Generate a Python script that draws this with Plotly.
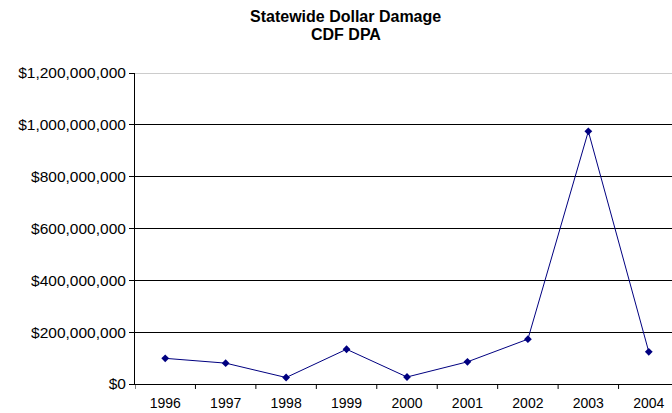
import plotly.graph_objects as go

years = ["1996", "1997", "1998", "1999", "2000", "2001", "2002", "2003", "2004"]
damage = [99_000_000, 80_500_000, 25_000_000, 134_000_000, 27_000_000,
          85_500_000, 173_000_000, 975_000_000, 124_000_000]
y_ticks = [0, 200_000_000, 400_000_000, 600_000_000, 800_000_000,
           1_000_000_000, 1_200_000_000]
y_tick_text = [f"${v:,}" for v in y_ticks]

navy = "#000080"
font_family = "Liberation Sans, Arial, sans-serif"

fig = go.Figure()
fig.add_trace(go.Scatter(
    x=list(range(len(years))), y=damage, mode="lines+markers",
    line=dict(color=navy, width=1),
    marker=dict(symbol="diamond", size=6, color=navy),
    hoverinfo="skip", showlegend=False,
))

fig.update_layout(
    width=672, height=413,
    margin=dict(l=135.4, r=0, t=72.8, b=29.3),
    paper_bgcolor="white", plot_bgcolor="white",
    font=dict(family=font_family, size=14, color="black"),
    xaxis=dict(
        range=[-0.5, 8.384], tickmode="array",
        tickvals=list(range(len(years))), ticktext=years,
        showgrid=False, zeroline=False,
        showline=True, linecolor="black", linewidth=1,
        ticks="", tickfont=dict(size=14), ticklabelstandoff=6,
    ),
    yaxis=dict(
        range=[0, 1_200_000_000], tickmode="array",
        tickvals=y_ticks, ticktext=y_tick_text,
        showgrid=True, gridcolor="black", gridwidth=1,
        zeroline=False, showline=True, linecolor="black", linewidth=1,
        ticks="outside", ticklen=5, tickcolor="black",
        tickfont=dict(size=15.5), ticklabelstandoff=0,
    ),
)

# tick marks on the category boundaries
for k in range(len(years) + 1):
    fig.add_shape(type="line", xref="x", yref="paper",
                  x0=k - 0.5, x1=k - 0.5, y0=0, y1=-0.016,
                  line=dict(color="black", width=1))

# plot area border along the top
fig.add_shape(type="line", xref="paper", yref="y",
              x0=0, x1=1, y0=1_200_000_000, y1=1_200_000_000,
              line=dict(color="#9a9a9a", width=1))

title_x = (346 - 135.4) / 536.6
fig.add_annotation(text="<b>Statewide Dollar Damage</b>", xref="paper", yref="paper",
                   x=title_x, y=1 + (72.8 - 16) / 310.9, showarrow=False,
                   font=dict(size=16), xanchor="center", yanchor="middle")
fig.add_annotation(text="<b>CDF DPA</b>", xref="paper", yref="paper",
                   x=title_x, y=1 + (72.8 - 34) / 310.9, showarrow=False,
                   font=dict(size=16), xanchor="center", yanchor="middle")

fig.write_html("out.html")
